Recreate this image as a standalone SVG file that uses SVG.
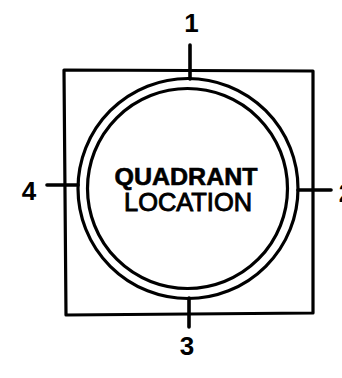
<svg xmlns="http://www.w3.org/2000/svg" width="342" height="378" viewBox="0 0 342 378">
<style>
.ln{fill:none;stroke:#000;stroke-width:3.2;stroke-linecap:round;stroke-linejoin:round}
.tk{fill:none;stroke:#000;stroke-width:3.6;stroke-linecap:round}
.lbl{font-family:"Liberation Sans",Arial,sans-serif;font-weight:bold;font-size:26px;fill:#000;text-anchor:middle}
.t1{font-family:"Liberation Sans",Arial,sans-serif;font-weight:bold;font-size:24px;fill:#000;text-anchor:middle;stroke:#000;stroke-width:0.6}
.t2{font-family:"Liberation Sans",Arial,sans-serif;font-size:25px;fill:#000;text-anchor:middle;stroke:#000;stroke-width:0.9}
</style>
<rect width="342" height="378" fill="#fff"/>
<g id="frame">
<path class="ln" d="M64 70 L313 71 L313 313 L66 315 Z"/>
</g>
<g id="outer-ring">
<circle class="ln" cx="188" cy="188.5" r="110"/>
</g>
<g id="quadrant-location">
<circle class="ln" cx="187.5" cy="188.5" r="100"/>
<text class="t1" x="186" y="185" textLength="143" lengthAdjust="spacingAndGlyphs">QUADRANT</text>
<text class="t2" x="188" y="211" textLength="128" lengthAdjust="spacingAndGlyphs">LOCATION</text>
</g>
<g id="connectors">
<line class="tk" x1="190" y1="45" x2="190" y2="79"/>
<line class="tk" x1="47" y1="185" x2="78" y2="185"/>
<line class="tk" x1="298" y1="190" x2="331" y2="190"/>
<line class="tk" x1="189" y1="298" x2="189" y2="327"/>
</g>
<g id="labels">
<text class="lbl" x="191.5" y="32">1</text>
<text class="lbl" x="29" y="200">4</text>
<text class="lbl" x="346" y="202">2</text>
<text class="lbl" x="187" y="355">3</text>
</g>
</svg>
